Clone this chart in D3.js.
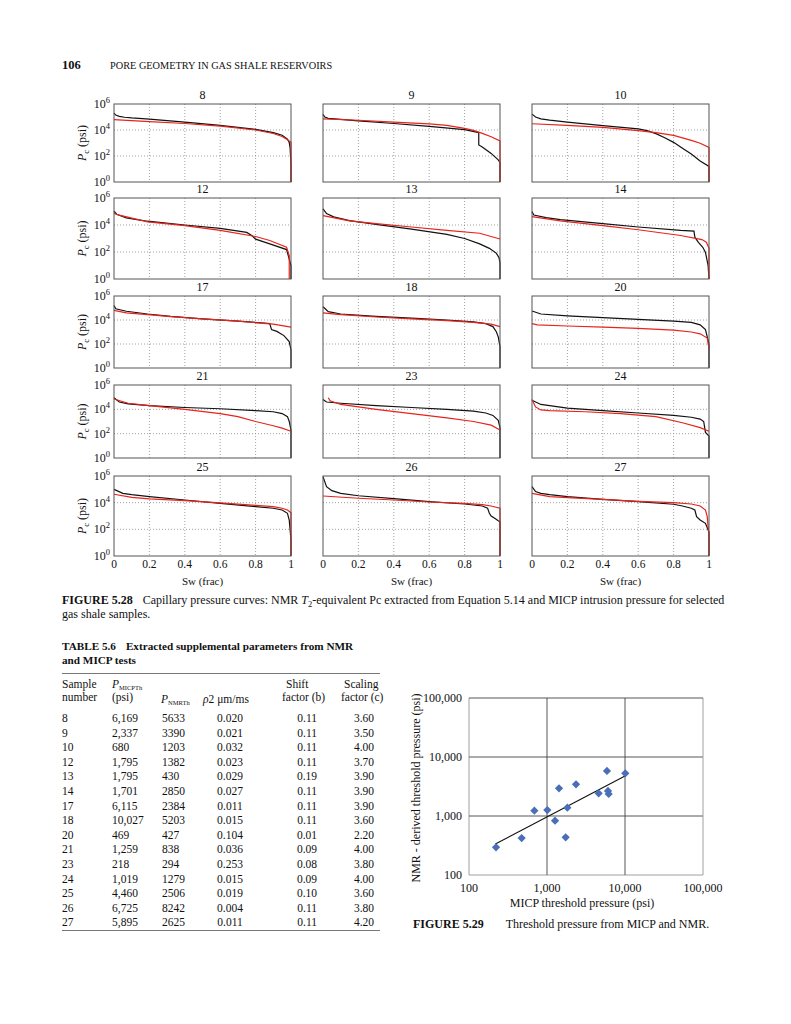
<!DOCTYPE html>
<html><head><meta charset="utf-8">
<script src="https://cdn.jsdelivr.net/npm/d3@7"></script>
<style>
html,body{margin:0;padding:0;background:#fff;}
svg{display:block;}
text{font-family:"Liberation Serif","Times New Roman",serif;fill:#111;}
</style></head>
<body>
<script>
// ---------- DATA ----------
const panelIds = ["8","9","10","12","13","14","17","18","20","21","23","24","25","26","27"];
// MICP (black) curves: [Sw, log10(Pc)]
const micpCurves = [
 [[0,5.3],[0.01,5.15],[0.03,5.05],[0.06,4.98],[0.1,4.93],[0.2,4.84],[0.4,4.6],[0.6,4.35],[0.8,4.05],[0.9,3.8],[0.95,3.6],[0.98,3.3],[0.99,3.05],[0.995,2.6],[1,1.3],[1,0]],
 [[0,5.2],[0.01,5.0],[0.03,4.9],[0.1,4.82],[0.2,4.7],[0.4,4.5],[0.6,4.28],[0.8,4.03],[0.88,3.8],[0.88,2.85],[0.9,2.7],[0.95,2.2],[0.99,1.7],[1,1.5],[1,0]],
 [[0,5.22],[0.02,5.0],[0.05,4.86],[0.1,4.76],[0.2,4.6],[0.4,4.34],[0.6,4.08],[0.65,3.95],[0.7,3.72],[0.75,3.4],[0.8,3.05],[0.85,2.6],[0.9,2.15],[0.95,1.62],[1,1.2],[1,0]],
 [[0,5.03],[0.015,4.8],[0.07,4.53],[0.13,4.4],[0.19,4.28],[0.4,4.0],[0.6,3.75],[0.75,3.45],[0.78,3.2],[0.8,2.95],[0.88,2.6],[0.975,2.18],[0.99,1.48],[1,1.0],[1,0]],
 [[0,5.2],[0.02,4.85],[0.06,4.6],[0.15,4.32],[0.3,4.05],[0.5,3.7],[0.7,3.3],[0.8,3.0],[0.885,2.6],[0.94,2.27],[0.98,1.9],[0.995,1.55],[1,1.2],[1,0]],
 [[0,4.99],[0.01,4.74],[0.08,4.54],[0.16,4.4],[0.4,4.1],[0.6,3.85],[0.84,3.6],[0.915,3.55],[0.92,3.1],[0.94,2.72],[0.965,2.35],[0.98,1.97],[0.995,1.0],[1,0]],
 [[0,5.21],[0.01,4.93],[0.07,4.73],[0.19,4.5],[0.32,4.3],[0.5,4.1],[0.7,3.9],[0.85,3.75],[0.88,3.7],[0.89,3.2],[0.92,3.05],[0.96,2.7],[0.99,2.2],[1,1.5],[1,0]],
 [[0,5.1],[0.03,4.7],[0.1,4.5],[0.3,4.3],[0.5,4.15],[0.7,4.0],[0.85,3.85],[0.92,3.7],[0.96,3.45],[0.98,3.0],[0.99,2.6],[1,1.8],[1,0]],
 [[0,4.75],[0.05,4.5],[0.2,4.35],[0.4,4.2],[0.6,4.05],[0.8,3.9],[0.9,3.8],[0.95,3.6],[0.98,3.2],[1,2.0],[1,0]],
 [[0,4.95],[0.03,4.6],[0.08,4.45],[0.2,4.3],[0.4,4.15],[0.6,4.05],[0.8,3.9],[0.9,3.8],[0.95,3.65],[0.98,3.4],[0.99,3.0],[1,2.3],[1,0]],
 [[0,4.8],[0.02,4.6],[0.1,4.5],[0.3,4.3],[0.5,4.15],[0.7,4.0],[0.85,3.85],[0.92,3.7],[0.96,3.5],[0.99,3.1],[1,2.5],[1,0]],
 [[0,4.75],[0.05,4.4],[0.2,4.1],[0.4,3.9],[0.6,3.7],[0.8,3.5],[0.9,3.35],[0.95,3.2],[0.97,3.0],[0.98,2.1],[1,1.8],[1,0]],
 [[0,5.0],[0.05,4.7],[0.1,4.6],[0.2,4.45],[0.4,4.2],[0.6,3.95],[0.8,3.7],[0.9,3.58],[0.95,3.45],[0.98,3.2],[0.99,2.7],[1,1.2],[1,0]],
 [[0,5.95],[0.02,5.2],[0.05,4.9],[0.1,4.7],[0.2,4.52],[0.4,4.3],[0.6,4.08],[0.8,3.9],[0.9,3.75],[0.93,3.58],[0.94,3.2],[0.95,3.0],[0.97,2.83],[0.99,2.65],[1,2.58],[1,0]],
 [[0,5.2],[0.02,4.83],[0.05,4.7],[0.1,4.6],[0.2,4.45],[0.4,4.25],[0.6,4.08],[0.8,3.88],[0.85,3.75],[0.9,3.58],[0.92,3.45],[0.93,2.95],[0.95,2.7],[0.98,2.45],[1,1.8],[1,0]]
];
// NMR T2-equivalent (red) curves: [Sw, log10(Pc)]
const nmrCurves = [
 [[0,4.8],[0.2,4.65],[0.4,4.5],[0.6,4.3],[0.8,4.0],[0.9,3.73],[0.95,3.5],[0.98,3.25],[1,3.05],[1,0]],
 [[0,4.86],[0.2,4.75],[0.4,4.6],[0.6,4.47],[0.7,4.35],[0.8,4.13],[0.85,3.97],[0.9,3.74],[0.95,3.48],[1,3.16],[1,0]],
 [[0,4.48],[0.2,4.35],[0.4,4.2],[0.6,3.95],[0.7,3.8],[0.8,3.58],[0.9,3.2],[0.95,2.98],[1,2.66],[1,0]],
 [[0,4.85],[0.03,4.73],[0.19,4.23],[0.4,3.95],[0.6,3.6],[0.8,3.15],[0.88,2.85],[0.975,2.35],[0.99,1.73],[0.99,0]],
 [[0,4.7],[0.15,4.3],[0.3,4.1],[0.5,3.85],[0.7,3.6],[0.885,3.39],[1,2.96]],
 [[0,4.62],[0.16,4.3],[0.4,3.95],[0.6,3.65],[0.84,3.22],[0.96,2.92],[0.985,2.72],[1,2.3],[1,0]],
 [[0,4.8],[0.07,4.6],[0.19,4.45],[0.32,4.28],[0.5,4.1],[0.7,3.9],[0.9,3.65],[1,3.4]],
 [[0,4.6],[0.1,4.45],[0.3,4.25],[0.5,4.1],[0.7,3.95],[0.85,3.8],[0.95,3.65],[1,3.45]],
 [[0,3.7],[0.03,3.6],[0.2,3.5],[0.4,3.4],[0.6,3.3],[0.8,3.15],[0.9,3.0],[0.95,2.85],[0.99,2.5],[1,1.6]],
 [[0,4.85],[0.08,4.5],[0.2,4.3],[0.4,4.0],[0.6,3.65],[0.7,3.4],[0.8,3.0],[0.9,2.65],[0.95,2.45],[1,2.2]],
 [[0.03,4.95],[0.04,4.7],[0.1,4.4],[0.3,4.0],[0.5,3.65],[0.7,3.3],[0.85,3.0],[0.95,2.7],[1,2.3]],
 [[0,4.8],[0.02,4.2],[0.05,3.95],[0.1,3.9],[0.3,3.8],[0.5,3.65],[0.7,3.4],[0.85,2.9],[0.95,2.5],[1,2.2]],
 [[0,4.63],[0.1,4.4],[0.2,4.28],[0.4,4.15],[0.6,3.98],[0.8,3.8],[0.9,3.7],[0.95,3.58],[0.98,3.45],[1,3.25],[1,0]],
 [[0,4.5],[0.2,4.33],[0.4,4.2],[0.6,4.05],[0.8,3.95],[0.9,3.85],[0.95,3.75],[1,3.58],[1,0]],
 [[0,4.7],[0.1,4.45],[0.2,4.38],[0.4,4.25],[0.6,4.1],[0.8,4.0],[0.9,3.9],[0.95,3.75],[0.98,3.45],[0.99,2.95],[1,1.45],[1,0]]
];
const swTicks = [0,0.2,0.4,0.6,0.8,1];
const swTickLabels = ["0","0.2","0.4","0.6","0.8","1"];
const pcTickExps = [0,2,4,6];

// Table 5.6
const tblSample = ["8","9","10","12","13","14","17","18","20","21","23","24","25","26","27"];
const tblPmicp  = ["6,169","2,337","680","1,795","1,795","1,701","6,115","10,027","469","1,259","218","1,019","4,460","6,725","5,895"];
const tblPnmr   = ["5633","3390","1203","1382","430","2850","2384","5203","427","838","294","1279","2506","8242","2625"];
const tblRho2   = ["0.020","0.021","0.032","0.023","0.029","0.027","0.011","0.015","0.104","0.036","0.253","0.015","0.019","0.004","0.011"];
const tblShift  = ["0.11","0.11","0.11","0.11","0.19","0.11","0.11","0.11","0.01","0.09","0.08","0.09","0.10","0.11","0.11"];
const tblScale  = ["3.60","3.50","4.00","3.70","3.90","3.90","3.90","3.60","2.20","4.00","3.80","4.00","3.60","3.80","4.20"];

// Figure 5.29 scatter
const scatterMicp = [222,473,689,1010,1268,1426,1734,1823,2355,4590,5873,6052,6174,10090];
const scatterNmr  = [294,423,1230,1260,834,2945,435,1383,3443,2421,5795,2655,2360,5290];
const trendMicp = [218,10000];
const trendNmr  = [335,4770];
const scatterTicks = [100,1000,10000,100000];

// ---------- LAYOUT ----------
const W = 791, H = 1024;
const svg = d3.select("body").append("svg").attr("width",W).attr("height",H);
svg.append("rect").attr("width",W).attr("height",H).attr("fill","#fff");

// Header
svg.append("text").attr("x",62).attr("y",69).attr("font-size",12.5).attr("font-weight","bold").text("106");
svg.append("text").attr("x",110).attr("y",69).attr("font-size",10.3).text("PORE GEOMETRY IN GAS SHALE RESERVOIRS");

const colLeft = [114,323,532];
const panelW = 177;
const rowTop = [104,198,296,385,476];
const rowH = [78,81,72,73,80];

const defs = svg.append("defs");

panelIds.forEach((id,i)=>{
  const r = Math.floor(i/3), c = i%3;
  const x0 = colLeft[c], y0 = rowTop[r], w = panelW, h = rowH[r];
  const g = svg.append("g").attr("transform",`translate(${x0},${y0})`);
  const xs = d3.scaleLinear().domain([0,1]).range([0,w]);
  const ys = d3.scaleLog().domain([1,1e6]).range([h,0]);
  defs.append("clipPath").attr("id","clip"+i).append("rect").attr("x",-1).attr("y",0).attr("width",w+2).attr("height",h);
  g.selectAll(".vg").data(swTicks.slice(1,-1)).enter().append("line")
    .attr("x1",d=>xs(d)).attr("x2",d=>xs(d)).attr("y1",0).attr("y2",h)
    .attr("stroke","#8a8a8a").attr("stroke-width",0.8).attr("stroke-dasharray","1,2");
  g.selectAll(".hg").data([2,4]).enter().append("line")
    .attr("y1",d=>ys(Math.pow(10,d))).attr("y2",d=>ys(Math.pow(10,d))).attr("x1",0).attr("x2",w)
    .attr("stroke","#8a8a8a").attr("stroke-width",0.8).attr("stroke-dasharray","1,2");
  const line = d3.line().x(d=>xs(d[0])).y(d=>ys(Math.pow(10,d[1])));
  const cg = g.append("g").attr("clip-path",`url(#clip${i})`);
  cg.append("path").attr("d",line(micpCurves[i])).attr("fill","none").attr("stroke","#111").attr("stroke-width",1.2);
  cg.append("path").attr("d",line(nmrCurves[i])).attr("fill","none").attr("stroke","#e8231b").attr("stroke-width",1.2);
  g.append("rect").attr("width",w).attr("height",h).attr("fill","none").attr("stroke","#555").attr("stroke-width",1);
  g.append("text").attr("x",w/2).attr("y",-5).attr("text-anchor","middle").attr("font-size",12).text(id);
  if(c===0){
    pcTickExps.forEach(e=>{
      const t = g.append("text").attr("x",-4).attr("y",ys(Math.pow(10,e))+4).attr("text-anchor","end").attr("font-size",12);
      t.append("tspan").text("10");
      t.append("tspan").attr("dy",-5).attr("font-size",8.5).text(e);
    });
    const yl = g.append("text").attr("transform",`translate(-28,${h/2}) rotate(-90)`).attr("text-anchor","middle").attr("font-size",12);
    yl.append("tspan").attr("font-style","italic").text("P");
    yl.append("tspan").attr("dy",3).attr("font-size",8.5).text("c");
    yl.append("tspan").attr("dy",-3).text(" (psi)");
  }
  if(r===4){
    g.selectAll(".xt").data(swTicks).enter().append("text")
      .attr("x",d=>xs(d)).attr("y",h+12).attr("text-anchor","middle").attr("font-size",11.5)
      .text((d,k)=>swTickLabels[k]);
    g.append("text").attr("x",w/2).attr("y",h+29).attr("text-anchor","middle").attr("font-size",11).text("Sw (frac)");
  }
});

// Figure 5.28 caption
const capFs = 12;
const cap1 = svg.append("text").attr("x",62).attr("y",604).attr("font-size",capFs);
cap1.append("tspan").attr("font-weight","bold").text("FIGURE 5.28");
cap1.append("tspan").attr("dx",10).text("Capillary pressure curves: NMR ");
cap1.append("tspan").attr("font-style","italic").text("T");
cap1.append("tspan").attr("dy",2.5).attr("font-size",8.5).text("2");
cap1.append("tspan").attr("dy",-2.5).text("-equivalent Pc extracted from Equation 5.14 and MICP intrusion pressure for selected");
svg.append("text").attr("x",62).attr("y",618).attr("font-size",capFs).text("gas shale samples.");

// Table 5.6 title
const ttFs = 11.2;
const tt1 = svg.append("text").attr("x",62).attr("y",650).attr("font-size",ttFs).attr("font-weight","bold");
tt1.append("tspan").text("TABLE 5.6");
tt1.append("tspan").attr("dx",10).text("Extracted supplemental parameters from NMR");
svg.append("text").attr("x",62).attr("y",664).attr("font-size",ttFs).attr("font-weight","bold").text("and MICP tests");

svg.append("line").attr("x1",62).attr("x2",380).attr("y1",673.5).attr("y2",673.5).attr("stroke","#555").attr("stroke-width",0.8);
svg.append("line").attr("x1",62).attr("x2",380).attr("y1",930.5).attr("y2",930.5).attr("stroke","#555").attr("stroke-width",0.8);

const hfs = 11.5;
function htext(x,y,txt,anchor){ return svg.append("text").attr("x",x).attr("y",y).attr("font-size",hfs).attr("text-anchor",anchor||"start").text(txt); }
htext(62,688,"Sample"); htext(62,701,"number");
const pm = svg.append("text").attr("x",112).attr("y",688).attr("font-size",hfs);
pm.append("tspan").attr("font-style","italic").text("P");
pm.append("tspan").attr("dy",2).attr("font-size",6.5).text("MICPTh");
htext(112,701,"(psi)");
const pn = svg.append("text").attr("x",161).attr("y",703).attr("font-size",hfs);
pn.append("tspan").attr("font-style","italic").text("P");
pn.append("tspan").attr("dy",2).attr("font-size",6.5).text("NMRTh");
const rh = svg.append("text").attr("x",203).attr("y",703).attr("font-size",hfs);
rh.append("tspan").attr("font-style","italic").text("ρ");
rh.append("tspan").text("2 μm/ms");
htext(286,688,"Shift"); htext(282,701,"factor (b)");
htext(344,688,"Scaling"); htext(341,701,"factor (c)");

const rowY0 = 722, rowStep = 14.6;
tblSample.forEach((s,k)=>{
  const y = rowY0 + k*rowStep;
  htext(62,y,s);
  htext(112,y,tblPmicp[k]);
  htext(162,y,tblPnmr[k]);
  htext(230,y,tblRho2[k],"middle");
  htext(317,y,tblShift[k],"end");
  htext(374,y,tblScale[k],"end");
});

// Figure 5.29 scatter
const sx = d3.scaleLog().domain([100,100000]).range([469,703]);
const sy = d3.scaleLog().domain([100,100000]).range([875,698]);
const sg = svg.append("g");
const sfs = 12;
scatterTicks.forEach((t,k)=>{
  const outer = (k===0 || k===scatterTicks.length-1);
  sg.append("line").attr("x1",sx(t)).attr("x2",sx(t)).attr("y1",sy(100000)).attr("y2",sy(100))
    .attr("stroke",outer? "#a0a0a0":"#444").attr("stroke-width",outer?1:0.9);
  sg.append("line").attr("y1",sy(t)).attr("y2",sy(t)).attr("x1",sx(100)).attr("x2",sx(100000))
    .attr("stroke",k===0? "#a0a0a0":"#444").attr("stroke-width",k===0?1:0.9);
  sg.append("text").attr("x",462).attr("y",sy(t)+4).attr("text-anchor","end").attr("font-size",sfs).text(d3.format(",")(t));
  sg.append("text").attr("x",sx(t)).attr("y",892).attr("text-anchor","middle").attr("font-size",sfs).text(d3.format(",")(t));
});
sg.append("line").attr("x1",sx(trendMicp[0])).attr("y1",sy(trendNmr[0])).attr("x2",sx(trendMicp[1])).attr("y2",sy(trendNmr[1]))
  .attr("stroke","#111").attr("stroke-width",1.1);
const sym = d3.symbol().type(d3.symbolSquare).size(34);
scatterMicp.forEach((v,k)=>{
  sg.append("path").attr("d",sym()).attr("fill","#4a6fb8")
    .attr("transform",`translate(${sx(v)},${sy(scatterNmr[k])}) rotate(45)`);
});
sg.append("text").attr("x",582).attr("y",907).attr("text-anchor","middle").attr("font-size",sfs).text("MICP threshold pressure (psi)");
sg.append("text").attr("transform","translate(420,788) rotate(-90)").attr("text-anchor","middle").attr("font-size",sfs).text("NMR - derived threshold pressure (psi)");
const c29 = svg.append("text").attr("x",413).attr("y",928).attr("font-size",capFs);
c29.append("tspan").attr("font-weight","bold").text("FIGURE 5.29");
c29.append("tspan").attr("dx",22).text("Threshold pressure from MICP and NMR.");
</script>
</body></html>
